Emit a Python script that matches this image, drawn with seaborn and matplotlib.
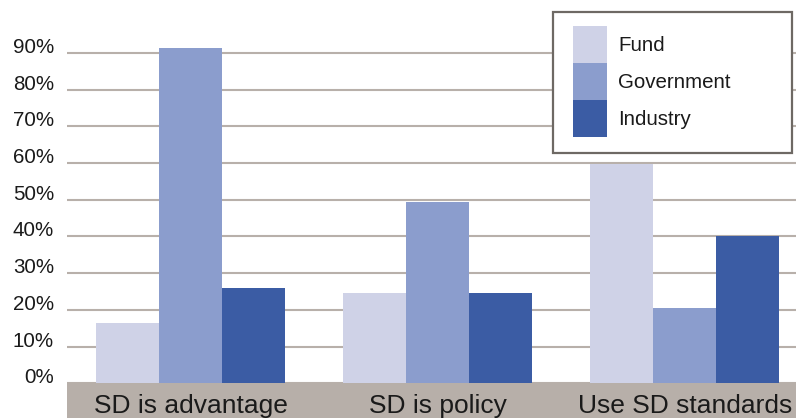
import matplotlib
matplotlib.use("Agg")
import matplotlib.pyplot as plt
import seaborn as sns
import pandas as pd
from matplotlib.patches import Patch, Rectangle

categories = ["SD is advantage", "SD is policy", "Use SD standards"]
groups = ["Fund", "Government", "Industry"]
fund = [16.5, 24.7, 59.8]
government = [91.3, 49.5, 20.6]
industry = [26.0, 24.7, 40.2]
y_ticks = [0, 10, 20, 30, 40, 50, 60, 70, 80, 90]
y_tick_labels = [f"{v}%" for v in y_ticks]
colors = ["#cfd2e7", "#8b9dcd", "#3b5ca4"]

df = pd.DataFrame({
    "category": categories * 3,
    "group": [g for g in groups for _ in categories],
    "share": fund + government + industry,
})

sns.set_theme(style="white")
plt.rcParams["font.family"] = ["Liberation Sans", "DejaVu Sans"]

W, H = 796, 418
fig = plt.figure(figsize=(W / 100, H / 100), dpi=100)
ax = fig.add_axes([67 / W, (H - 383.3) / H, 741.3 / W, 383.3 / H])

sns.barplot(data=df, x="category", y="share", hue="group", hue_order=groups,
            palette=colors, width=0.765, gap=0, saturation=1, legend=False,
            edgecolor="none", linewidth=0, ax=ax)

ax.set_xlim(-0.5, 2.5)
ax.set_ylim(0, 104.4)
ax.set_yticks(y_ticks)
ax.set_yticklabels(y_tick_labels)
ax.set_axisbelow(True)
ax.grid(axis="y", color="#b8b0aa", linewidth=1.5)
ax.grid(axis="x", visible=False)
for s in ax.spines.values():
    s.set_visible(False)
ax.tick_params(axis="y", length=0, pad=9.4, labelsize=14.8, labelcolor="#1a1a1a")
ax.tick_params(axis="x", length=0, pad=21.6, labelsize=19, labelcolor="#1a1a1a")
for lbl in ax.get_yticklabels():
    lbl.set_va("baseline")
for lbl in ax.get_xticklabels():
    lbl.set_va("baseline")
ax.set_xlabel("")
ax.set_ylabel("")

# taupe band behind the category labels
ax.add_patch(Rectangle((0, 0), 1.2, -0.12, transform=ax.transAxes,
                       facecolor="#b7afa9", edgecolor="none",
                       clip_on=False, zorder=0.3))

# legend box
fig.add_artist(Rectangle((553 / W, 1 - 153 / H), (792 - 553) / W, (153 - 12) / H,
                         transform=fig.transFigure, facecolor="white",
                         edgecolor="#6e6964", linewidth=1.6, zorder=4))
fs = 14.8
fpx = fs * 100 / 72
# swatch height of 37 px once the legend's handle descent is taken off
swatch_h = (37 / fpx - 0.245) / 0.65
handles = [Patch(facecolor=c, edgecolor="none", label=g) for c, g in zip(colors, groups)]
leg = fig.legend(handles=handles, loc="upper left",
                 bbox_to_anchor=(573 / W, 1 - 26 / H), frameon=False,
                 borderpad=0, borderaxespad=0, labelspacing=0,
                 handlelength=34 / fpx, handleheight=swatch_h,
                 handletextpad=11 / fpx, fontsize=fs)
for t in leg.get_texts():
    t.set_color("#1a1a1a")
leg.set_zorder(5)

fig.savefig("out.png", dpi=100)
